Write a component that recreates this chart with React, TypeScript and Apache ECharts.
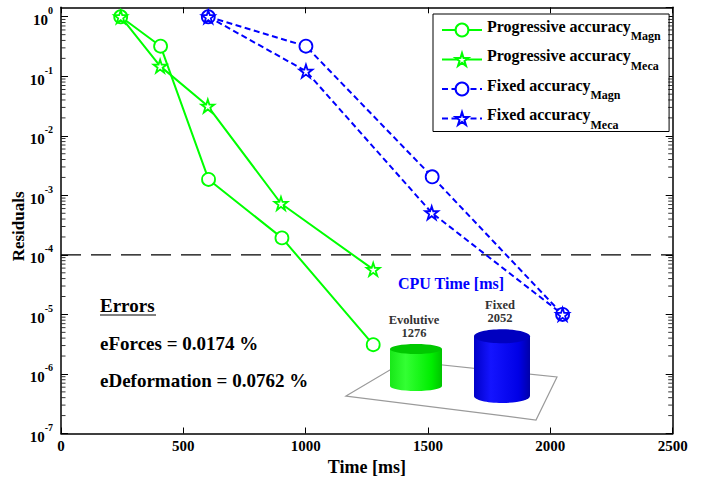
import React, { useEffect, useRef } from 'react';
import * as echarts from 'echarts';

// ---- data ----
const progMagnTime = [244, 407, 603, 903, 1276];
const progMagnRes = [1, 0.32, 0.00185, 0.000193, 0.0000031];
const progMecaTime = [244, 405, 600, 899, 1276];
const progMecaRes = [1, 0.148, 0.0316, 0.00073, 0.000057];
const fixMagnTime = [602, 1001, 1517, 2050];
const fixMagnRes = [1, 0.32, 0.00205, 0.00001];
const fixMecaTime = [602, 1001, 1515, 2050];
const fixMecaRes = [1, 0.122, 0.00051, 0.00001];

const seriesNames = [
  'Progressive accuracy_Magn',
  'Progressive accuracy_Meca',
  'Fixed accuracy_Magn',
  'Fixed accuracy_Meca',
];
const thresholdRes = 1e-4;
const timeRange = [0, 2500];

const cpuCategories = ['Evolutive', 'Fixed'];
const cpuTimes = [1276, 2052];

const decadeExponents = [-7, -6, -5, -4, -3, -2, -1];
const minorMultipliers = [2, 3, 4, 5, 6, 7, 8, 9];

const errorTitle = 'Errors';
const errorLines = ['eForces = 0.0174 %', 'eDeformation = 0.0762 %'];
const insetTitle = 'CPU Time [ms]';

const SERIF = '"Liberation Serif", "Times New Roman", serif';
const GREEN = '#00ff00';
const BLUE = '#0000ff';
const STAR =
  'path://M50,2 L61.8,37.6 L99,37.6 L69,59.6 L80.4,95 L50,73 L19.6,95 L31,59.6 L1,37.6 L38.2,37.6 Z';

const minorTickValues: number[] = [];
decadeExponents.forEach((e) => {
  minorMultipliers.forEach((m) => minorTickValues.push(m * Math.pow(10, e)));
});

function lineSeries(name: string, xs: number[], ys: number[], color: string, symbol: string, dashed: boolean) {
  return {
    name,
    type: 'line',
    xAxisIndex: 0,
    yAxisIndex: 0,
    data: xs.map((x, i) => [x, ys[i]]),
    symbol,
    symbolSize: 13,
    showAllSymbol: true,
    lineStyle: { color, width: 2, type: dashed ? [6, 3.5] : 'solid' },
    itemStyle: { color: '#ffffff', borderColor: color, borderWidth: 1.8 },
    emphasis: { disabled: true },
    z: 3,
  } as any;
}

function minorTickSeries(xVal: number, offset: number) {
  return {
    type: 'scatter',
    xAxisIndex: 0,
    yAxisIndex: 0,
    silent: true,
    clip: false,
    z: 4,
    symbol: 'rect',
    symbolSize: [4, 1],
    symbolOffset: [offset, 0],
    itemStyle: { color: '#000' },
    emphasis: { disabled: true },
    data: minorTickValues.map((v) => [xVal, v]),
  } as any;
}

export default function App() {
  const ref = useRef<HTMLDivElement>(null);

  useEffect(() => {
    if (!ref.current) return;
    const chart = echarts.init(ref.current, undefined, { renderer: 'svg' });

    const option: any = {
      animation: false,
      backgroundColor: '#ffffff',
      grid: [
        { left: 61, right: 28.3, top: 7.3, bottom: 43.5, outerBoundsMode: 'none' },
        { left: 373, width: 172, bottom: 91, height: 64, outerBoundsMode: 'none' },
      ],
      legend: {
        data: seriesNames,
        orient: 'vertical',
        left: 433,
        top: 14,
        padding: [4, 8, 1, 8],
        itemGap: 5.5,
        itemWidth: 40,
        itemHeight: 16,
        selectedMode: false,
        backgroundColor: '#ffffff',
        borderColor: '#000000',
        borderWidth: 1,
        formatter: (name: string) => {
          const [a, b] = name.split('_');
          return `{n|${a}}{s|${b}}{z| }`;
        },
        textStyle: {
          color: '#000',
          rich: {
            n: { fontSize: 16, fontWeight: 'bold', fontFamily: SERIF, lineHeight: 16, verticalAlign: 'top', color: '#000' },
            s: { fontSize: 12, fontWeight: 'bold', fontFamily: SERIF, lineHeight: 12, verticalAlign: 'bottom', color: '#000' },
            z: { fontSize: 1, lineHeight: 24 },
          },
        },
      },
      xAxis: [
        {
          type: 'value',
          gridIndex: 0,
          min: timeRange[0],
          max: timeRange[1],
          interval: 500,
          position: 'bottom',
          name: 'Time [ms]',
          nameLocation: 'middle',
          nameGap: 24,
          nameMoveOverlap: false,
          nameTextStyle: { fontSize: 18, fontWeight: 'bold', fontFamily: SERIF, color: '#000' },
          axisLine: { show: true, onZero: false, lineStyle: { color: '#000', width: 1.5 } },
          axisTick: { show: true, inside: true, length: 6, lineStyle: { color: '#000', width: 1 } },
          axisLabel: {
            fontSize: 15,
            fontWeight: 'bold',
            fontFamily: SERIF,
            color: '#000',
            margin: 5,
            formatter: (v: number) => String(v),
          },
          splitLine: { show: false },
        },
        {
          type: 'value',
          gridIndex: 0,
          min: timeRange[0],
          max: timeRange[1],
          interval: 500,
          position: 'top',
          axisLine: { show: true, onZero: false, lineStyle: { color: '#000', width: 1.5 } },
          axisTick: { show: true, inside: true, length: 6, lineStyle: { color: '#000', width: 1 } },
          axisLabel: { show: false },
          splitLine: { show: false },
        },
        {
          type: 'category',
          gridIndex: 1,
          data: cpuCategories,
          show: false,
        },
      ],
      yAxis: [
        {
          type: 'log',
          logBase: 10,
          gridIndex: 0,
          min: 1e-7,
          max: 1.44,
          splitNumber: 7,
          position: 'left',
          name: 'Residuals',
          nameLocation: 'middle',
          nameGap: 34,
          nameMoveOverlap: false,
          nameTextStyle: { fontSize: 17, fontWeight: 'bold', fontFamily: SERIF, color: '#000', padding: [0, 12, 0, 0] },
          axisLine: { show: true, onZero: false, lineStyle: { color: '#000', width: 1.5 } },
          axisTick: { show: true, inside: true, length: 7, lineStyle: { color: '#000', width: 1 } },
          axisLabel: {
            margin: 8,
            showMaxLabel: false,
            formatter: (v: number) => {
              const e = Math.round(Math.log10(v));
              return `{b|10}{s|${e}}`;
            },
            rich: {
              b: { fontSize: 15, fontWeight: 'bold', fontFamily: SERIF, color: '#000', lineHeight: 22, verticalAlign: 'bottom' },
              s: { fontSize: 10, fontWeight: 'bold', fontFamily: SERIF, color: '#000', lineHeight: 8, verticalAlign: 'top' },
            },
          },
          splitLine: { show: false },
        },
        {
          type: 'log',
          logBase: 10,
          gridIndex: 0,
          min: 1e-7,
          max: 1.44,
          splitNumber: 7,
          position: 'right',
          axisLine: { show: true, onZero: false, lineStyle: { color: '#000', width: 1.5 } },
          axisTick: { show: true, inside: true, length: 7, lineStyle: { color: '#000', width: 1 } },
          axisLabel: { show: false },
          splitLine: { show: false },
        },
        {
          type: 'value',
          gridIndex: 1,
          min: 0,
          max: 2200,
          show: false,
        },
      ],
      graphic: [
        {
          type: 'polygon',
          z: 1,
          silent: true,
          shape: { points: [[346, 396], [405, 361], [557, 377], [536, 420]] },
          style: { fill: 'none', stroke: '#9a9a9a', lineWidth: 1.2 },
        },
        {
          type: 'text',
          x: 451,
          y: 283,
          z: 6,
          style: { text: insetTitle, fill: BLUE, font: `bold 16px ${SERIF}`, textAlign: 'center', textVerticalAlign: 'middle', align: 'center', verticalAlign: 'middle' },
        },
        {
          type: 'text',
          x: 100,
          y: 305,
          z: 6,
          style: { text: errorTitle, fill: '#000', font: `bold 19px ${SERIF}`, textAlign: 'left', textVerticalAlign: 'middle', align: 'left', verticalAlign: 'middle' },
        },
        {
          type: 'line',
          z: 6,
          shape: { x1: 100, y1: 315, x2: 156, y2: 315 },
          style: { stroke: '#000', lineWidth: 1.2 },
        },
        {
          type: 'text',
          x: 100,
          y: 343,
          z: 6,
          style: { text: errorLines[0], fill: '#000', font: `bold 19px ${SERIF}`, textAlign: 'left', textVerticalAlign: 'middle', align: 'left', verticalAlign: 'middle' },
        },
        {
          type: 'text',
          x: 100,
          y: 380,
          z: 6,
          style: { text: errorLines[1], fill: '#000', font: `bold 19px ${SERIF}`, textAlign: 'left', textVerticalAlign: 'middle', align: 'left', verticalAlign: 'middle' },
        },
      ],
      series: [
        {
          type: 'line',
          name: 'threshold',
          xAxisIndex: 0,
          yAxisIndex: 0,
          silent: true,
          symbol: 'none',
          z: 2,
          lineStyle: { color: '#000', width: 1.2, type: [20, 10] },
          emphasis: { disabled: true },
          data: [[timeRange[0], thresholdRes], [timeRange[1], thresholdRes]],
        },
        lineSeries(seriesNames[0], progMagnTime, progMagnRes, GREEN, 'circle', false),
        lineSeries(seriesNames[1], progMecaTime, progMecaRes, GREEN, STAR, false),
        lineSeries(seriesNames[2], fixMagnTime, fixMagnRes, BLUE, 'circle', true),
        lineSeries(seriesNames[3], fixMecaTime, fixMecaRes, BLUE, STAR, true),
        minorTickSeries(timeRange[0], 2.5),
        minorTickSeries(timeRange[1], -2.5),
        {
          type: 'custom',
          name: 'cpu',
          xAxisIndex: 2,
          yAxisIndex: 2,
          silent: true,
          z: 5,
          data: cpuTimes.map((v, i) => [i, v]),
          renderItem: (params: any, api: any) => {
            const i = params.dataIndex;
            const val = api.value(1);
            const base = api.coord([api.value(0), 0]);
            const top = api.coord([api.value(0), val]);
            const depth = i * 10;
            const rx = (52 + 4 * i) / 2;
            const ry = 5 + 2 * i;
            const cx = base[0];
            const by = base[1] + depth;
            const ty = top[1] + depth;
            const isGreen = i === 0;
            const body = new echarts.graphic.LinearGradient(0, 0, 1, 0, isGreen
              ? [
                  { offset: 0, color: '#18e818' },
                  { offset: 0.3, color: '#33ff33' },
                  { offset: 0.8, color: '#00ee00' },
                  { offset: 1, color: '#00c400' },
                ]
              : [
                  { offset: 0, color: '#0000c8' },
                  { offset: 0.3, color: '#1414ff' },
                  { offset: 0.8, color: '#0000e6' },
                  { offset: 1, color: '#0000a8' },
                ]);
            const topColor = isGreen ? '#00c800' : '#0000c0';
            return {
              type: 'group',
              children: [
                { type: 'ellipse', shape: { cx, cy: by, rx, ry }, style: { fill: body } },
                { type: 'rect', shape: { x: cx - rx, y: ty, width: rx * 2, height: by - ty }, style: { fill: body } },
                { type: 'ellipse', shape: { cx, cy: ty, rx, ry }, style: { fill: topColor } },
                {
                  type: 'text',
                  x: cx - 2,
                  y: ty - ry - 4.5,
                  style: {
                    text: `${cpuCategories[i]}\n${val}`,
                    fill: '#333',
                    font: `bold 12.5px ${SERIF}`,
                    lineHeight: 13,
                    align: 'center',
                    verticalAlign: 'bottom',
                    textAlign: 'center',
                    textVerticalAlign: 'bottom',
                  },
                },
              ],
            };
          },
        },
      ],
    };

    chart.setOption(option);
    return () => chart.dispose();
  }, []);

  return (
    <div
      ref={ref}
      style={{ position: 'fixed', left: 0, top: 0, width: 701, height: 477, background: '#fff' }}
    />
  );
}
